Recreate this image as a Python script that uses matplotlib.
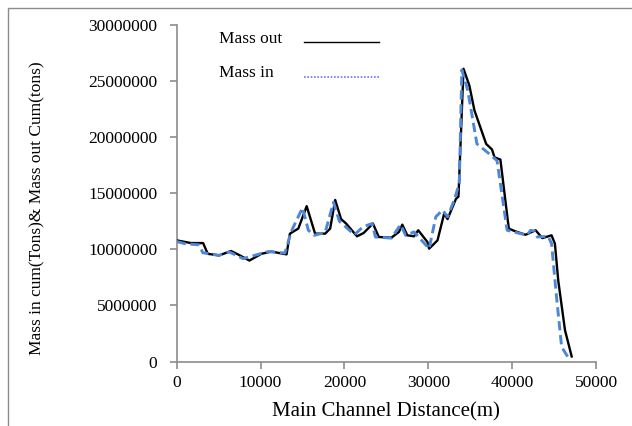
import matplotlib
matplotlib.use("Agg")
import matplotlib.pyplot as plt
from matplotlib.lines import Line2D
from matplotlib.ticker import FuncFormatter

# Data (distance in m, mass in tons)
out_x = [0, 1700, 3150, 3700, 5070, 6470, 7300, 8670, 10100, 11300, 13100, 13500,
         14500, 15500, 16500, 17700, 18300, 18900, 19600, 20200, 21500, 22300,
         23400, 24100, 25600, 26500, 26900, 27500, 28300, 28800, 29900, 30100,
         31100, 31900, 32300, 33300, 33600, 34200, 34900, 35500, 36900, 37600,
         37900, 38600, 39600, 40400, 41600, 42800, 43600, 44700, 45100, 45500,
         46300, 47100]
out_y = [10800000, 10560000, 10560000, 9600000, 9460000, 9850000, 9550000, 9000000,
         9600000, 9800000, 9550000, 11400000, 11850000, 13850000, 11400000,
         11400000, 11850000, 14400000, 12700000, 12300000, 11160000, 11460000,
         12300000, 11100000, 11040000, 11550000, 12200000, 11250000, 11160000,
         11700000, 10650000, 10060000, 10800000, 13200000, 12700000, 14500000,
         14700000, 26100000, 24600000, 22400000, 19400000, 18900000, 18200000,
         18000000, 11850000, 11600000, 11300000, 11700000, 11000000, 11250000,
         10500000, 7200000, 2800000, 450000]

in_x = [0, 1000, 2700, 3100, 5000, 6300, 7900, 9300, 10900, 12900, 13300, 13600,
        15000, 15700, 16400, 17700, 18700, 19400, 21200, 22200, 23300, 23700,
        25600, 26700, 27300, 28300, 30100, 30900, 31700, 32300, 33100, 33700,
        34000, 34700, 35800, 37300, 38200, 39400, 41800, 42200, 42700, 43000,
        44300, 44700, 45300, 45900, 46900]
in_y = [10700000, 10500000, 10400000, 9700000, 9460000, 9760000, 9170000, 9460000,
        9800000, 9670000, 10650000, 11500000, 13700000, 11700000, 11250000,
        11500000, 14200000, 12500000, 11300000, 12000000, 12300000, 11100000,
        11000000, 12200000, 11250000, 11550000, 10060000, 12900000, 13500000,
        12900000, 14400000, 15900000, 26000000, 24200000, 19400000, 18500000,
        17900000, 11700000, 11250000, 11700000, 11600000, 11100000, 11160000,
        10500000, 5700000, 1300000, 100000]

x_ticks = [0, 10000, 20000, 30000, 40000, 50000]
y_ticks = [0, 5000000, 10000000, 15000000, 20000000, 25000000, 30000000]

W, H = 632, 426
fig = plt.figure(figsize=(W / 100, H / 100), dpi=100)
plt.rcParams['font.family'] = ['Liberation Serif', 'DejaVu Serif']

ax = fig.add_axes([176.7 / W, 1 - 361.5 / H, (596 - 176.7) / W, (361.5 - 25) / H])

ax.plot(out_x, out_y, color='black', lw=1.7, zorder=3)
ax.plot(in_x, in_y, color='#4f86d6', lw=2.1, dashes=(3.2, 1.6), zorder=4)

ax.set_xlim(0, 50000)
ax.set_ylim(0, 30000000)
ax.set_xticks(x_ticks)
ax.set_yticks(y_ticks)
fmt = FuncFormatter(lambda v, p: f"{int(round(v))}")
ax.xaxis.set_major_formatter(fmt)
ax.yaxis.set_major_formatter(fmt)

gray = '#8c8c8c'
for s in ['top', 'right']:
    ax.spines[s].set_visible(False)
for s in ['left', 'bottom']:
    ax.spines[s].set_color(gray)
    ax.spines[s].set_linewidth(1.2)
ax.tick_params(axis='both', colors=gray, length=5, width=1.2, direction='out',
               labelcolor='black', labelsize=12.5)
ax.tick_params(axis='y', pad=9)
ax.tick_params(axis='x', pad=5)

ax.set_xlabel('Main Channel Distance(m)', fontsize=15, labelpad=8)
fig.text(37 / W, 1 - 208 / H, 'Mass in cum(Tons)& Mass out Cum(tons)',
         fontsize=12.5, rotation=90, ha='center', va='center')

# custom legend
fig.text(219 / W, 1 - 39 / H, 'Mass out', fontsize=12.5, va='center', ha='left')
fig.text(219 / W, 1 - 73 / H, 'Mass in', fontsize=12.5, va='center', ha='left')
fig.add_artist(Line2D([304 / W, 379 / W], [1 - 41.7 / H, 1 - 41.7 / H],
                      color='black', lw=1.0))
fig.add_artist(Line2D([304 / W, 379 / W], [1 - 76.7 / H, 1 - 76.7 / H],
                      color='#6f6fff', lw=1.2, linestyle=(0, (1, 1))))

# outer frame
fig.add_artist(Line2D([7.5 / W, 7.5 / W, 1.0], [0, 1 - 8 / H, 1 - 8 / H],
                      color=gray, lw=1.0))

fig.savefig('out.png', dpi=100)
